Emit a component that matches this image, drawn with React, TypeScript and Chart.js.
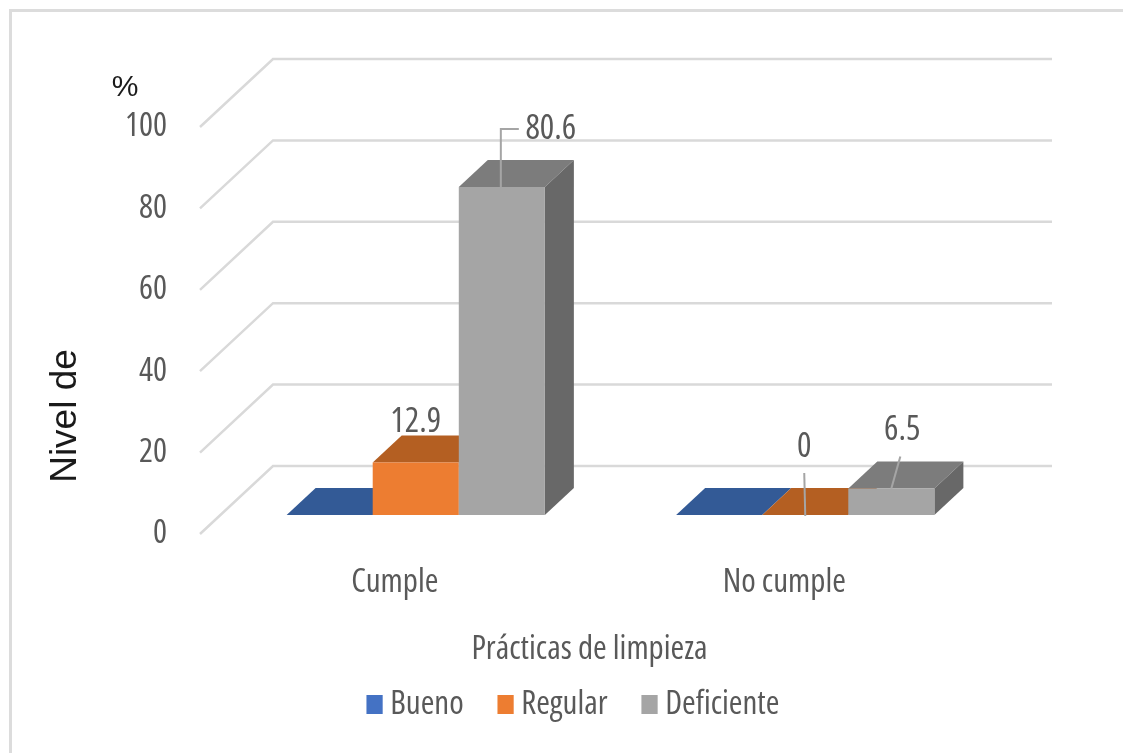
import React, { useEffect, useRef } from "react";
import { Chart, registerables } from "chart.js";

Chart.register(...registerables);

const categories = ["Cumple", "No cumple"];
const bueno = [0, 0];
const regular = [12.9, 0];
const deficiente = [80.6, 6.5];
const seriesNames = ["Bueno", "Regular", "Deficiente"];
const frontColors = ["#4472c4", "#ed7d31", "#a5a5a5"];
const topColors = ["#335a96", "#b45f22", "#7c7c7c"];
const sideColors = ["#2a4a7c", "#8f4c1b", "#686868"];

const FAMILY = "'Open Sans', sans-serif";
// The "weight" slot is the part of Chart.js's font string that accepts a stretch keyword
const labelFont = { family: FAMILY, weight: "condensed", size: 33 };
const TEXT = "#595959";
const GRID = "#d9d9d9";
const LEADER = "#a5a5a5";

// Oblique projection of the 3D box: wall depth, bar depth and bar inset from the floor's front edge.
const WALL = { dx: 73, dy: -68 };
const DEPTH = { dx: 29, dy: -27 };
const INSET = { dx: 21, dy: -19 };

// Value labels: [series, category, text, offset of the text, leader polyline], relative to the bar's front-top centre.
type ValueLabel = [number, number, string, [number, number], [number, number][]];
const valueLabels: ValueLabel[] = [
  [2, 0, "80.6", [49, -58], [[-1, 0], [-1, -58], [17, -58]]],
  [1, 0, "12.9", [0, -40], []],
  [1, 1, "0", [-1, -68], [[0, 1], [-1, -42]]],
  [2, 1, "6.5", [11, -58], [[0, 0], [9, -32]]],
];

function poly(ctx: CanvasRenderingContext2D, pts: [number, number][], fill: string) {
  ctx.beginPath();
  pts.forEach(([x, y], i) => (i ? ctx.lineTo(x, y) : ctx.moveTo(x, y)));
  ctx.closePath();
  ctx.fillStyle = fill;
  ctx.fill();
}

const box3d = {
  id: "box3d",
  afterLayout(chart: any) {
    // Tick labels are clipped to the scale's box, which is narrower than they are
    chart.scales.y.left = 0;
  },
  beforeDatasetsDraw(chart: any) {
    const { ctx, chartArea, scales } = chart;
    const { left, right } = chartArea;

    // Left wall and back wall gridlines
    ctx.save();
    ctx.strokeStyle = GRID;
    ctx.lineWidth = 2.5;
    scales.y.ticks.forEach((t: any) => {
      const y = scales.y.getPixelForValue(t.value);
      ctx.beginPath();
      ctx.moveTo(left, y);
      ctx.lineTo(left + WALL.dx, y + WALL.dy);
      ctx.lineTo(right + WALL.dx, y + WALL.dy);
      ctx.stroke();
    });
    ctx.restore();

    // Value labels sit behind the prisms
    ctx.save();
    ctx.font = `condensed 34px ${FAMILY}`;
    ctx.fillStyle = TEXT;
    ctx.textAlign = "center";
    ctx.textBaseline = "middle";
    valueLabels.forEach(([s, c, text, off]) => {
      const el = chart.getDatasetMeta(s).data[c];
      ctx.fillText(text, el.x + INSET.dx + off[0], el.y + INSET.dy + off[1]);
    });
    ctx.restore();

    // Prisms, painted left to right so each front covers its neighbour's top
    ctx.save();
    ctx.translate(INSET.dx, INSET.dy);
    categories.forEach((_, c) => {
      seriesNames.forEach((_n, s) => {
        const el = chart.getDatasetMeta(s).data[c];
        const x0 = el.x - el.width / 2;
        const x1 = el.x + el.width / 2;
        const yt = el.y;
        const yb = el.base;
        poly(ctx, [[x0, yt], [x1, yt], [x1 + DEPTH.dx, yt + DEPTH.dy], [x0 + DEPTH.dx, yt + DEPTH.dy]], topColors[s]);
        poly(ctx, [[x1, yt], [x1 + DEPTH.dx, yt + DEPTH.dy], [x1 + DEPTH.dx, yb + DEPTH.dy], [x1, yb]], sideColors[s]);
        el.draw(ctx);
      });
    });
    ctx.restore();

    // Leader lines run over the prisms
    ctx.save();
    ctx.strokeStyle = LEADER;
    ctx.lineWidth = 2;
    valueLabels.forEach(([s, c, , , leader]) => {
      if (!leader.length) return;
      const el = chart.getDatasetMeta(s).data[c];
      ctx.beginPath();
      leader.forEach(([dx, dy], i) => {
        const x = el.x + INSET.dx + dx;
        const y = el.y + INSET.dy + dy;
        if (i) ctx.lineTo(x, y);
        else ctx.moveTo(x, y);
      });
      ctx.stroke();
    });
    ctx.restore();
    return false;
  },
  afterDraw(chart: any) {
    const { ctx, legend } = chart;

    // Widen the legend swatches; the text offset stays tied to the narrower native box
    legend.legendHitBoxes.forEach((hit: any, i: number) => {
      ctx.fillStyle = frontColors[i];
      ctx.fillRect(hit.left, hit.top + (hit.height - 19) / 2, 16, 19);
    });

    // Axis captions placed apart from the axis centre
    ctx.save();
    ctx.fillStyle = "#1a1a1a";
    ctx.textAlign = "center";
    ctx.textBaseline = "middle";
    ctx.font = "30px 'Liberation Sans', sans-serif";
    ctx.fillText("%", 125, 88);
    ctx.translate(66, 416);
    ctx.rotate(-Math.PI / 2);
    ctx.font = "37px 'Liberation Sans', sans-serif";
    ctx.fillText("Nivel de", 0, 0);
    ctx.restore();
  },
};

export default function App() {
  const ref = useRef<HTMLCanvasElement>(null);
  useEffect(() => {
    const prev = document.body.style.margin;
    document.body.style.margin = "0";
    const chart = new Chart(ref.current!, {
      type: "bar",
      plugins: [box3d],
      data: {
        labels: categories,
        datasets: [bueno, regular, deficiente].map((data, i) => ({
          label: seriesNames[i],
          data,
          backgroundColor: frontColors[i],
          categoryPercentage: 0.663,
          barPercentage: 1,
        })),
      },
      options: {
        responsive: false,
        animation: false,
        layout: { padding: { left: 167, right: 144, top: 127, bottom: 22 } },
        plugins: {
          tooltip: { enabled: false },
          title: { display: false },
          legend: {
            position: "bottom",
            labels: {
              boxWidth: 7,
              boxHeight: 19,
              padding: 34,
              color: TEXT,
              font: labelFont,
            },
          },
        },
        scales: {
          x: {
            afterFit: (s: any) => {
              s.height = 120;
            },
            grid: { display: false },
            border: { display: false },
            ticks: { color: TEXT, font: labelFont, padding: 21, maxRotation: 0 },
            title: {
              display: true,
              text: "Prácticas de limpieza",
              color: TEXT,
              font: labelFont,
              padding: { top: 0, bottom: -15 },
            },
          },
          y: {
            min: 0,
            max: 100,
            afterFit: (s: any) => {
              s.width = 33;
            },
            grid: { display: false },
            border: { display: false },
            ticks: { stepSize: 20, color: TEXT, font: labelFont, padding: 25 },
          },
        },
      },
    } as any);
    return () => {
      chart.destroy();
      document.body.style.margin = prev;
    };
  }, []);

  return (
    <div style={{ position: "relative", width: 1123, height: 753, background: "#fff", overflow: "hidden" }}>
      <div
        style={{
          position: "absolute",
          left: 9,
          top: 9,
          right: 0,
          bottom: 0,
          borderLeft: "3px solid #dcdcdc",
          borderTop: "3px solid #dcdcdc",
        }}
      />
      <canvas ref={ref} width={1123} height={753} style={{ position: "absolute", left: 0, top: 0, display: "block" }} />
    </div>
  );
}
